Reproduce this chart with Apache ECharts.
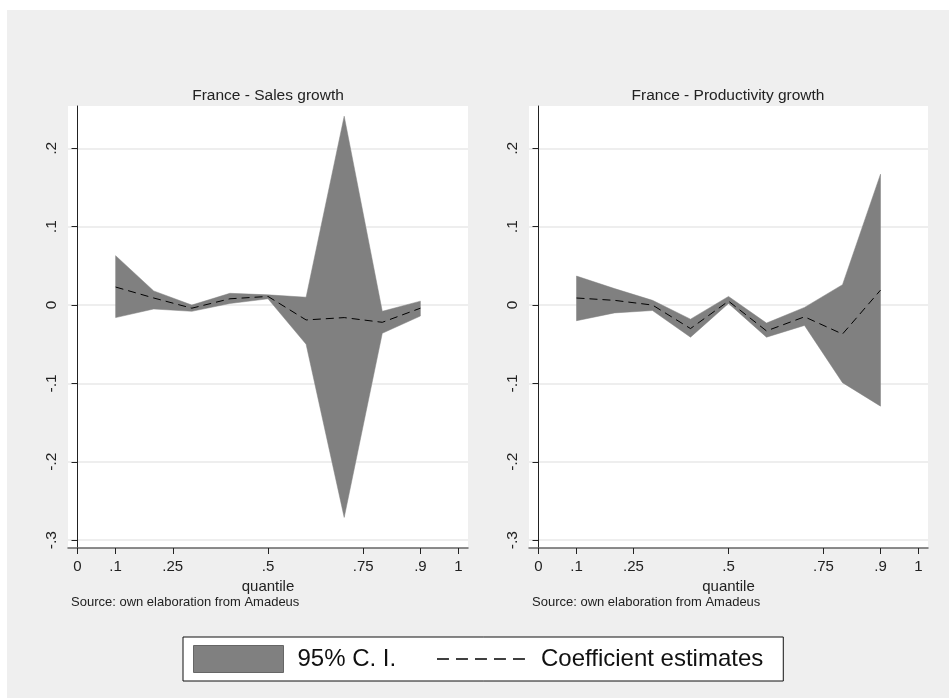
<!DOCTYPE html>
<html>
<head>
<meta charset="utf-8">
<script src="https://cdn.jsdelivr.net/npm/echarts@6/dist/echarts.min.js"></script>
<style>
html,body{margin:0;padding:0;background:#fff;}
#c{width:949px;height:698px;}
</style>
</head>
<body>
<div id="c"></div>
<script>
// ---- data ----
var quantiles = [0.1, 0.2, 0.3, 0.4, 0.5, 0.6, 0.7, 0.8, 0.9];

var salesCoef  = [0.023, 0.009, -0.004, 0.008, 0.011, -0.019, -0.016, -0.022, -0.004];
var salesLower = [-0.016, -0.005, -0.008, 0.002, 0.008, -0.050, -0.271, -0.036, -0.014];
var salesUpper = [0.063, 0.018, 0.000, 0.015, 0.013, 0.010, 0.241, -0.008, 0.005];

var prodCoef  = [0.009, 0.006, 0.000, -0.030, 0.005, -0.033, -0.015, -0.037, 0.019];
var prodLower = [-0.020, -0.010, -0.007, -0.041, 0.002, -0.041, -0.026, -0.099, -0.129];
var prodUpper = [0.037, 0.021, 0.006, -0.018, 0.011, -0.023, -0.003, 0.026, 0.167];

var xTickValues = [0, 0.1, 0.25, 0.5, 0.75, 0.9, 1];
var xTickLabels = ['0', '.1', '.25', '.5', '.75', '.9', '1'];
var yTickValues = [-0.3, -0.2, -0.1, 0, 0.1, 0.2];
var yTickLabels = ['-.3', '-.2', '-.1', '0', '.1', '.2'];

var panelTitles = ['France - Sales growth', 'France - Productivity growth'];
var xAxisTitle = 'quantile';
var sourceNote = 'Source: own elaboration from Amadeus';
var legendNames = ['95% C. I.', 'Coefficient estimates'];

// ---- chart ----
var FONT = 'Liberation Sans, Arial, sans-serif';
var chart = echarts.init(document.getElementById('c'), null, {renderer: 'canvas'});

function pairs(xs, ys) { return xs.map(function (x, i) { return [x, ys[i]]; }); }
function fmt(values, labels) {
  return function (v) {
    for (var i = 0; i < values.length; i++) if (Math.abs(values[i] - v) < 1e-9) return labels[i];
    return '';
  };
}

function bandSeries(idx, lower, upper) {
  var data = quantiles.map(function (q, i) { return [q, lower[i], upper[i]]; });
  return {
    type: 'custom', name: legendNames[0], xAxisIndex: idx, yAxisIndex: idx,
    clip: true, z: 2,
    encode: {x: 0, y: [1, 2]},
    data: data,
    itemStyle: {color: '#808080'},
    renderItem: function (params, api) {
      if (params.dataIndex !== 0) return null;
      var pts = [];
      for (var i = 0; i < data.length; i++) pts.push(api.coord([data[i][0], data[i][2]]));
      for (var j = data.length - 1; j >= 0; j--) pts.push(api.coord([data[j][0], data[j][1]]));
      return {type: 'polygon', shape: {points: pts}, style: {fill: '#808080', stroke: '#808080', lineWidth: 0.5}};
    }
  };
}
function coefSeries(idx, coef) {
  return {
    type: 'line', name: legendNames[1], xAxisIndex: idx, yAxisIndex: idx,
    data: pairs(quantiles, coef), symbol: 'none', z: 3,
    lineStyle: {color: '#000', width: 1, type: [8, 5]},
    itemStyle: {color: '#000'}
  };
}

function xAx(idx) {
  return {
    type: 'value', gridIndex: idx, min: -0.025, max: 1.025,
    name: xAxisTitle, nameLocation: 'middle', nameGap: 27,
    nameTextStyle: {fontFamily: FONT, fontSize: 15, color: '#222'},
    axisLine: {show: true, onZero: false, lineStyle: {color: '#666', width: 1.5}},
    axisTick: {show: true, length: 6, customValues: xTickValues, lineStyle: {color: '#222'}},
    axisLabel: {customValues: xTickValues, formatter: fmt(xTickValues, xTickLabels),
      fontFamily: FONT, fontSize: 15, color: '#222', margin: 11},
    splitLine: {show: false}
  };
}
function yAx(idx) {
  return {
    type: 'value', gridIndex: idx, min: -0.31, max: 0.254,
    axisLine: {show: true, lineStyle: {color: '#222', width: 1}},
    axisTick: {show: true, length: 6, customValues: yTickValues, lineStyle: {color: '#222'}},
    axisLabel: {customValues: yTickValues, formatter: fmt(yTickValues, yTickLabels),
      rotate: 90, fontFamily: FONT, fontSize: 15.5, color: '#222', margin: 8},
    splitLine: {show: true, lineStyle: {color: '#e8e8e8', width: 1.5}}
  };
}

var option = {
  animation: false,
  backgroundColor: '#ffffff',
  graphic: [
    {type: 'rect', z: -10, shape: {x: 7, y: 10, width: 942, height: 688}, style: {fill: '#efefef'}},
    {type: 'text', left: 71, top: 596, style: {text: sourceNote, font: '13px ' + FONT, fill: '#222'}},
    {type: 'text', left: 532, top: 596, style: {text: sourceNote, font: '13px ' + FONT, fill: '#222'}}
  ],
  title: [
    {text: panelTitles[0], left: 268, top: 88, textAlign: 'center', padding: 0,
      textStyle: {fontFamily: FONT, fontSize: 15.5, fontWeight: 'normal', color: '#222'}},
    {text: panelTitles[1], left: 728, top: 88, textAlign: 'center', padding: 0,
      textStyle: {fontFamily: FONT, fontSize: 15.5, fontWeight: 'normal', color: '#222'}}
  ],
  grid: [
    {left: 68, top: 106, width: 400, height: 442, show: true, backgroundColor: '#fff', borderWidth: 0},
    {left: 529, top: 106, width: 399, height: 442, show: true, backgroundColor: '#fff', borderWidth: 0}
  ],
  xAxis: [xAx(0), xAx(1)],
  yAxis: [yAx(0), yAx(1)],
  legend: {
    left: 183, top: 637,
    orient: 'horizontal',
    backgroundColor: '#fff', borderColor: '#111', borderWidth: 1,
    padding: [8, 20, 8, 10],
    itemWidth: 90, itemHeight: 27, itemGap: 40,
    textStyle: {fontFamily: FONT, fontSize: 24, color: '#111', padding: [0, 0, 0, 9]},
    data: [
      {name: legendNames[0], icon: 'rect', itemStyle: {color: '#808080', borderColor: '#666', borderWidth: 1}},
      {name: legendNames[1], itemStyle: {opacity: 0}, lineStyle: {color: '#000', width: 1.5, type: [12, 7], opacity: 1}}
    ],
    selectedMode: false
  },
  series: [
    bandSeries(0, salesLower, salesUpper), coefSeries(0, salesCoef),
    bandSeries(1, prodLower, prodUpper), coefSeries(1, prodCoef)
  ]
};
chart.setOption(option);
</script>
</body>
</html>
